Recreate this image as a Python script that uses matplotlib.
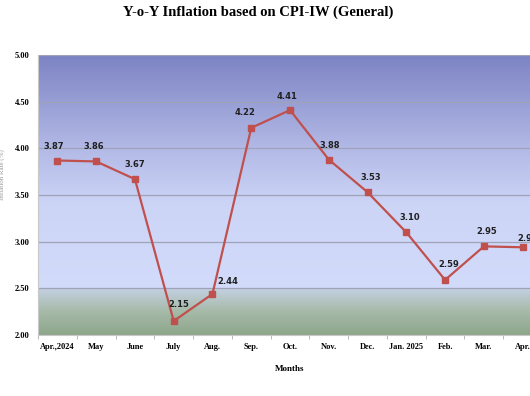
import numpy as np
import matplotlib.pyplot as plt
from matplotlib.colors import LinearSegmentedColormap

months = ['Apr.,2024', 'May', 'June', 'July', 'Aug.', 'Sep.', 'Oct.', 'Nov.',
          'Dec.', 'Jan. 2025', 'Feb.', 'Mar.', 'Apr.']
inflation = [3.87, 3.86, 3.67, 2.15, 2.44, 4.22, 4.41, 3.88, 3.53, 3.10, 2.59, 2.95, 2.94]
yticks = [2.00, 2.50, 3.00, 3.50, 4.00, 4.50, 5.00]

# label offsets (pixels) for each data label
label_off = [(-4, 10), (-2, 10), (0, 10), (5, 12), (15, 8), (-6, 11), (-3, 9),
             (1, 10), (3, 10), (3, 10), (4, 11), (3, 10), (5, 4)]

plt.rcParams['font.family'] = ['Liberation Serif', 'DejaVu Serif']

fig = plt.figure(figsize=(5.3, 3.96), dpi=100)
ax = fig.add_axes([0.0717, 0.154, 0.951, 0.707])

x = np.arange(len(months))
ax.set_xlim(-0.5, len(months) - 0.5)
ax.set_ylim(2.0, 5.0)

# background gradient: purple->lavender above 2.5, blue-grey->green below
top_cmap = LinearSegmentedColormap.from_list(
    'top', [(0, '#d3dbfb'), (0.35, '#cdd5f7'), (0.6, '#b2b9e6'), (1, '#7c83c3')])
bot_cmap = LinearSegmentedColormap.from_list(
    'bot', [(0, '#8da68a'), (0.5, '#a6baa8'), (1, '#c3d1e2')])
g = np.linspace(0, 1, 256).reshape(-1, 1)
ax.imshow(g, cmap=top_cmap, aspect='auto', origin='lower',
          extent=[-0.5, len(months) - 0.5, 2.5, 5.0], zorder=0)
ax.imshow(g, cmap=bot_cmap, aspect='auto', origin='lower',
          extent=[-0.5, len(months) - 0.5, 2.0, 2.5], zorder=0)

for yv in yticks[1:]:
    ax.axhline(yv, color='#9fa2b8', lw=0.9, zorder=1)

ax.plot(x, inflation, color='#c0504d', lw=1.6, marker='s', ms=4.5,
        markerfacecolor='#c0504d', markeredgecolor='#c0504d', zorder=3)

for i, v in enumerate(inflation):
    ax.annotate(f'{v:.2f}', (x[i], v), xytext=label_off[i], textcoords='offset pixels',
                ha='center', va='bottom', fontsize=6, fontweight='bold',
                family=['DejaVu Sans'], color='#202020', zorder=4)

ax.set_yticks(yticks)
ax.set_yticklabels([f'{t:.2f}' for t in yticks], fontsize=6, fontweight='bold')
ax.set_xticks(x)
ax.set_xticklabels(months, fontsize=6, fontweight='bold')
ax.set_xticks(np.arange(-0.5, len(months)), minor=True)
ax.tick_params(axis='x', which='major', length=0, pad=6)
ax.tick_params(axis='x', which='minor', length=3, color='#b0b0b0')
ax.tick_params(axis='y', length=0, pad=6)

for side in ['top', 'right']:
    ax.spines[side].set_visible(False)
ax.spines['left'].set_color('#c8c8c8')
ax.spines['bottom'].set_color('#c8c8c8')

ax.set_xlabel('Months', fontsize=6.5, fontweight='bold', labelpad=10)

fig.text(0.487, 0.968, 'Y-o-Y Inflation based on CPI-IW (General)', ha='center', va='center',
         fontsize=10.5, fontweight='bold')
fig.text(0.004, 0.56, 'Inflation Rate (%)', rotation=90, ha='center', va='center',
         fontsize=5, color='#999999')

fig.savefig('out.png', dpi=100)
